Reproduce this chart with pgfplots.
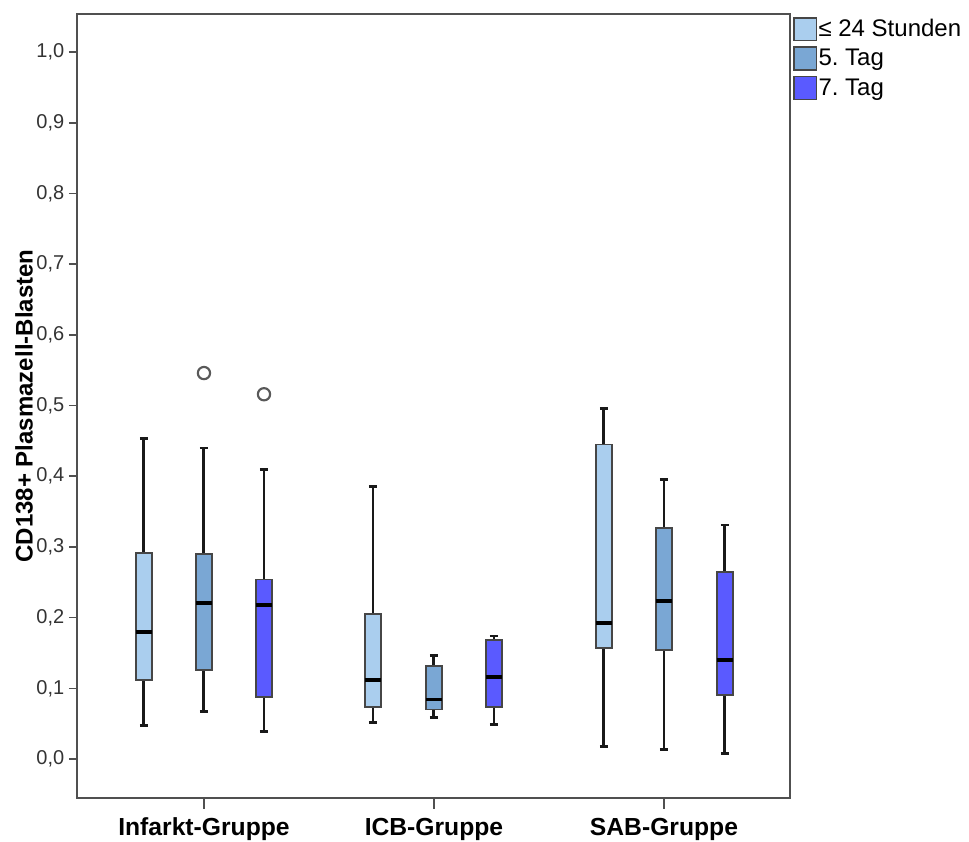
\documentclass[border=0pt]{standalone}
\usepackage{fontspec}
\setmainfont{Liberation Sans}
\usepackage{pgfplots}
\pgfplotsset{compat=1.18}
\usepgfplotslibrary{statistics}

\definecolor{lb}{RGB}{170,206,238}
\definecolor{mb}{RGB}{122,167,212}
\definecolor{db}{RGB}{90,90,255}
\definecolor{frame}{RGB}{80,80,80}
\definecolor{boxline}{RGB}{70,70,70}

\begin{document}
\begin{tikzpicture}
\begin{axis}[
  scale only axis,
  width=534.75pt, height=588pt,
  xmin=0.448, xmax=3.548,
  ymin=-0.0552, ymax=1.054,
  xtick={1,2,3},
  xticklabels={Infarkt-Gruppe,ICB-Gruppe,SAB-Gruppe},
  ytick={0,0.1,0.2,0.3,0.4,0.5,0.6,0.7,0.8,0.9,1.0},
  yticklabel style={/pgf/number format/fixed,/pgf/number format/fixed zerofill,
    /pgf/number format/precision=1,/pgf/number format/use comma,
    /pgf/number format/assume math mode=true},
  tick align=outside,
  tick pos=left,
  major tick length=6pt,
  tick style={draw=frame, line width=1.2pt},
  xtick style={/pgfplots/major tick length=8pt},
  axis line style={draw=frame, line width=1.5pt},
  x tick label style={font=\fontsize{18.5}{20}\selectfont\bfseries, text=black, yshift=-5.5pt},
  y tick label style={font=\fontsize{15}{17}\selectfont, text=black!80},
  ylabel={CD138+ Plasmazell-Blasten},
  ylabel style={font=\fontsize{18}{20}\selectfont\bfseries, at={(axis description cs:-0.0743,0.5)}, anchor=center},
  boxplot/draw direction=y,
  boxplot/box extend=0.07,
  boxplot/whisker extend=0.035,
  boxplot/every box/.style={draw=boxline, line width=1.4pt},
  boxplot/every whisker/.style={draw=black!90, line width=2.2pt},
  boxplot/every median/.style={draw=black, line width=2.8pt},
  legend style={at={(1,1)}, anchor=north west, xshift=2pt, yshift=-2pt,
    draw=none, fill=none, inner sep=0pt, row sep=3.9pt,
    font=\fontsize{18}{20}\selectfont,
    nodes={inner sep=1pt}, cells={anchor=west}},
  legend cell align=left,
]
\pgfplotsset{
  outl/.style={mark=*, mark size=4.6pt, mark options={fill=white, draw=black!65, line width=1.6pt}},
}
% Infarkt-Gruppe
\addplot[forget plot, fill=lb, outl, boxplot prepared={draw position=0.739,
  lower whisker=0.048, lower quartile=0.112, median=0.180, upper quartile=0.292, upper whisker=0.453}] coordinates {};
\addplot[forget plot, fill=mb, outl, boxplot prepared={draw position=1.0,
  lower whisker=0.067, lower quartile=0.126, median=0.221, upper quartile=0.290, upper whisker=0.440}] coordinates {(0,0.546)};
\addplot[forget plot, fill=db, outl, boxplot prepared={draw position=1.261,
  lower whisker=0.039, lower quartile=0.088, median=0.218, upper quartile=0.254, upper whisker=0.410}] coordinates {(0,0.516)};
% ICB-Gruppe
\addplot[forget plot, fill=lb, outl, boxplot prepared={draw position=1.735,
  lower whisker=0.051, lower quartile=0.073, median=0.112, upper quartile=0.205, upper whisker=0.386}] coordinates {};
\addplot[forget plot, fill=mb, outl, boxplot prepared={draw position=2.0,
  lower whisker=0.059, lower quartile=0.070, median=0.084, upper quartile=0.131, upper whisker=0.147}] coordinates {};
\addplot[forget plot, fill=db, outl, boxplot prepared={draw position=2.261,
  lower whisker=0.049, lower quartile=0.073, median=0.116, upper quartile=0.168, upper whisker=0.174}] coordinates {};
% SAB-Gruppe
\addplot[forget plot, fill=lb, outl, boxplot prepared={draw position=2.739,
  lower whisker=0.018, lower quartile=0.157, median=0.192, upper quartile=0.445, upper whisker=0.496}] coordinates {};
\addplot[forget plot, fill=mb, outl, boxplot prepared={draw position=3.0,
  lower whisker=0.014, lower quartile=0.154, median=0.224, upper quartile=0.327, upper whisker=0.395}] coordinates {};
\addplot[forget plot, fill=db, outl, boxplot prepared={draw position=3.265,
  lower whisker=0.008, lower quartile=0.090, median=0.140, upper quartile=0.265, upper whisker=0.331}] coordinates {};

\addlegendimage{legend image code/.code={\draw[fill=lb, draw=boxline, line width=1.2pt] (0pt,-8.5pt) rectangle (17pt,8.5pt);}}
\addlegendentry{≤ 24 Stunden}
\addlegendimage{legend image code/.code={\draw[fill=mb, draw=boxline, line width=1.2pt] (0pt,-8.5pt) rectangle (17pt,8.5pt);}}
\addlegendentry{5.\ Tag}
\addlegendimage{legend image code/.code={\draw[fill=db, draw=boxline, line width=1.2pt] (0pt,-8.5pt) rectangle (17pt,8.5pt);}}
\addlegendentry{7.\ Tag}
\end{axis}
\pgfresetboundingbox
\path ([shift={(-57.75pt,-32.25pt)}]current axis.south west) rectangle ([shift={(134.25pt,10.5pt)}]current axis.north east);
\end{tikzpicture}
\end{document}
